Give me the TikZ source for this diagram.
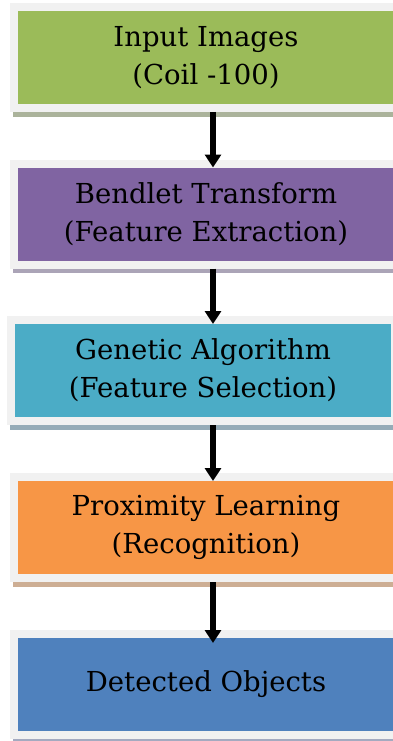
\documentclass[tikz,border=0pt]{standalone}
\usepackage{fontspec}
\setmainfont{DejaVu Serif}
\usetikzlibrary{arrows.meta}
\definecolor{framegray}{HTML}{F1F1F1}
\definecolor{cgreen}{HTML}{9BBB59}
\definecolor{cpurple}{HTML}{8064A2}
\definecolor{cteal}{HTML}{4BACC6}
\definecolor{corange}{HTML}{F79646}
\definecolor{cblue}{HTML}{4F81BD}
\definecolor{sgreen}{HTML}{ABB39B}
\definecolor{spurple}{HTML}{ABA4B7}
\definecolor{steal}{HTML}{95ABB7}
\definecolor{sorange}{HTML}{CDAE94}
\definecolor{sblue}{HTML}{A4AAC0}
\tikzset{
  stagebox/.style={draw=framegray, line width=8pt, minimum width=384pt, minimum height=101pt,
    align=center, inner sep=0pt, font=\fontsize{27.5}{38}\selectfont, text=black},
  arr/.style={line width=5.5pt, -{Triangle[width=16pt,length=13pt]}, shorten >=-8pt}
}
\begin{document}
\begin{tikzpicture}[x=1pt,y=-1pt]
\useasboundingbox (0,0) rectangle (393,741);
\clip (0,0) rectangle (393,741);
\fill[white] (0,0) rectangle (393,741);
\coordinate (ax) at (213,0);
% shadows
\fill[sgreen] (13,112) rectangle (400,117);
\fill[spurple] (13,268) rectangle (400,273);
\fill[steal] (10,425) rectangle (400,430);
\fill[sorange] (13,582) rectangle (400,587);
\fill[sblue] (13,738) rectangle (400,741);
\node[stagebox, fill=cgreen] (n1) at (206,57.5) {Input Images\\(Coil -100)};
\node[stagebox, fill=cpurple] (n2) at (206,214) {Bendlet Transform\\(Feature Extraction)};
\node[stagebox, fill=cteal] (n3) at (203,370.5) {Genetic Algorithm\\(Feature Selection)};
\node[stagebox, fill=corange] (n4) at (206,527.5) {Proximity Learning\\(Recognition)};
\node[stagebox, fill=cblue] (n5) at (206,684.5) {Detected Objects};
\draw[arr] (n1.south -| ax) -- (n2.north -| ax);
\draw[arr] (n2.south -| ax) -- (n3.north -| ax);
\draw[arr] (n3.south -| ax) -- (n4.north -| ax);
\draw[arr] (n4.south -| ax) -- ([yshift=-5pt]n5.north -| ax);
\end{tikzpicture}
\end{document}
